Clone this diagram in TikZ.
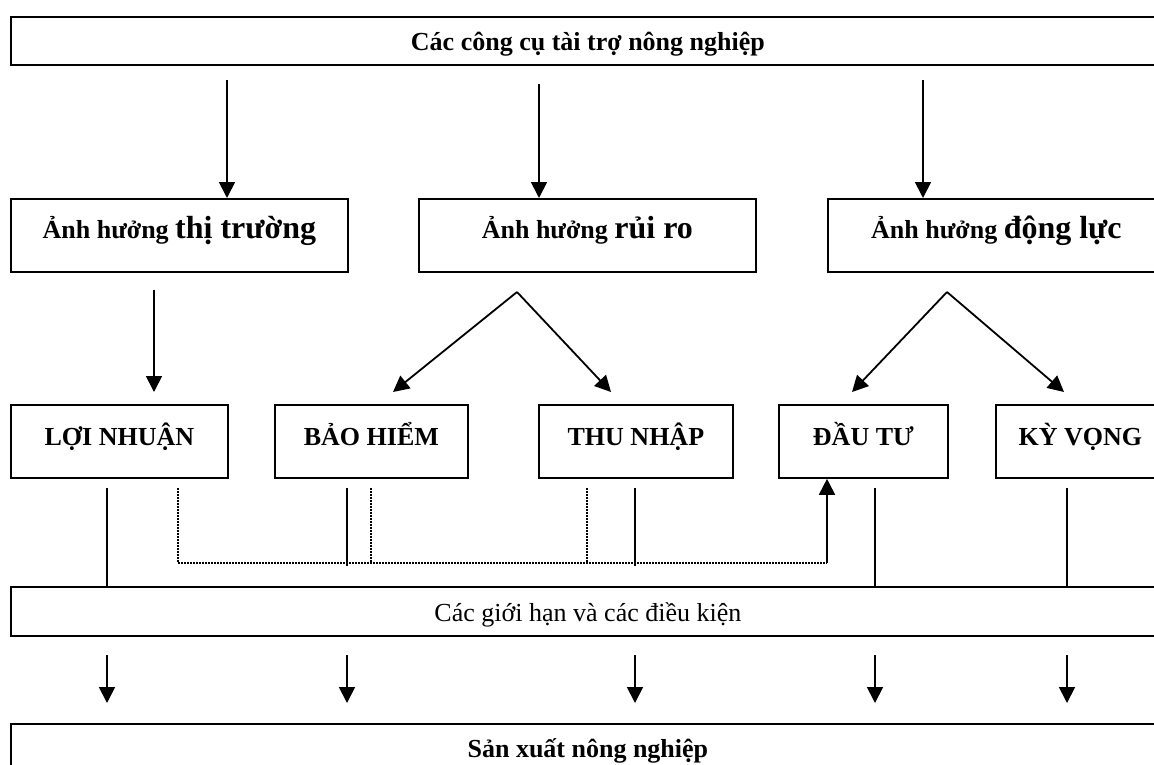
\documentclass[tikz,border=0pt]{standalone}
\usepackage{fontspec}
\setmainfont{Liberation Serif}
\usetikzlibrary{arrows.meta}
\begin{document}
\begin{tikzpicture}[x=1pt,y=-1pt,
  box/.style={draw, line width=1.8pt, inner sep=0pt, anchor=north west, align=center,
    text depth=0pt, font=\fontsize{26}{30}\selectfont\bfseries},
  conn/.style={line width=1.8pt},
  arr/.style={conn, -{Triangle[width=16pt,length=16pt]}},
  dotl/.style={line width=1.5pt, dash pattern=on 1.5pt off 1.5pt}]
\useasboundingbox (0,0) rectangle (1154,764);
\fill[white] (0,0) rectangle (1154,764);
\clip (0,0) rectangle (1154,764);
\newcommand{\bigw}[1]{{\fontsize{32}{36}\selectfont #1}}
% boxes
\node[box, minimum width=1154pt, minimum height=48pt, text height=20pt] (top) at (10,16) {Các công cụ tài trợ nông nghiệp};
\node[box, minimum width=337pt, minimum height=73pt, text height=7pt] (m1) at (10,198) {Ảnh hưởng \bigw{thị trường}};
\node[box, minimum width=337pt, minimum height=73pt, text height=7pt] (m2) at (418,198) {Ảnh hưởng \bigw{rủi ro}};
\node[box, minimum width=337pt, minimum height=73pt, text height=7pt] (m3) at (827,198) {Ảnh hưởng \bigw{động lực}};
\node[box, minimum width=217pt, minimum height=73pt, text height=9pt] (r1) at (10,404) {LỢI NHUẬN};
\node[box, minimum width=193pt, minimum height=73pt, text height=9pt] (r2) at (274,404) {BẢO HIỂM};
\node[box, minimum width=194pt, minimum height=73pt, text height=9pt] (r3) at (538,404) {THU NHẬP};
\node[box, minimum width=169pt, minimum height=73pt, text height=9pt] (r4) at (778,404) {ĐẦU TƯ};
\node[box, minimum width=169pt, minimum height=73pt, text height=9pt] (r5) at (995,404) {KỲ VỌNG};
\node[box, minimum width=1154pt, minimum height=49pt, text height=21pt, font=\fontsize{26}{30}\selectfont] (c) at (10,586) {Các giới hạn và các điều kiện};
\node[box, minimum width=1154pt, minimum height=58pt, text height=10pt] (p) at (10,723) {Sản xuất nông nghiệp};
% top arrows
\coordinate (a1) at (227,80);
\coordinate (a2) at (539,84);
\coordinate (a3) at (923,80);
\draw[arr] (a1) -- (a1 |- m1.north);
\draw[arr] (a2) -- (a2 |- m2.north);
\draw[arr] (a3) -- (a3 |- m3.north);
% middle arrows
\coordinate (b1) at (154,290);
\draw[arr, shorten >=12pt] (b1) -- (b1 |- r1.north);
\coordinate (d2) at (517,292);
\coordinate (t2l) at (393,392);
\coordinate (t2r) at (611,392);
\draw[arr] (d2) -- (t2l);
\draw[arr] (d2) -- (t2r);
\coordinate (d3) at (947,292);
\coordinate (t3l) at (852,392);
\coordinate (t3r) at (1064,392);
\draw[arr] (d3) -- (t3l);
\draw[arr] (d3) -- (t3r);
% lines to constraints box
\coordinate (s1) at (107,488);
\coordinate (s2) at (347,488);
\coordinate (s3) at (635,488);
\coordinate (s4) at (875,488);
\coordinate (s5) at (1067,488);
\draw[conn] (s1) -- (s1 |- c.north);
\draw[conn] (s2) -- (347,566);
\draw[conn] (s3) -- (635,566);
\draw[conn] (s4) -- (s4 |- c.north);
\draw[conn] (s5) -- (s5 |- c.north);
% dotted feedback
\coordinate (q1) at (178,488);
\coordinate (q2) at (371,488);
\coordinate (q3) at (587,488);
\coordinate (qc) at (827,563);
\draw[dotl] (q1) |- (qc);
\draw[dotl] (q2) -- (q2 |- qc);
\draw[dotl] (q3) -- (q3 |- qc);
\draw[arr] (qc) -- (qc |- r4.south);
% bottom arrows
\foreach \x/\n in {107/1,347/2,635/3,875/4,1067/5}{
  \coordinate (u\n) at (\x,655);
  \draw[arr, shorten >=20pt] (u\n) -- (u\n |- p.north);
}
\end{tikzpicture}
\end{document}
